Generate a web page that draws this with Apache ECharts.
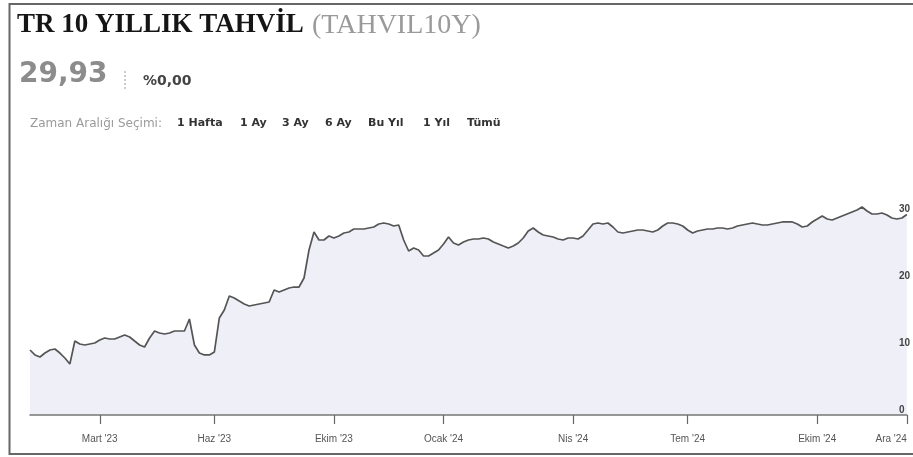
<!DOCTYPE html>
<html>
<head>
<meta charset="utf-8">
<script src="https://cdn.jsdelivr.net/npm/echarts@6/dist/echarts.min.js"></script>
<style>
  html, body { margin: 0; padding: 0; background: #ffffff; }
  #chart { width: 913px; height: 457px; }
</style>
</head>
<body>
<div id="chart"></div>
<script>
// TR 10 yıllık tahvil faizi, eşit aralıklı örnek noktalar (Mart '23 – Ara '24)
const yieldValues = [
  9.70, 8.96, 8.66, 9.25, 9.70, 9.85, 9.25, 8.51, 7.61, 11.04,
  10.60, 10.45, 10.60, 10.75, 11.19, 11.49, 11.34, 11.34, 11.64, 11.94,
  11.64, 11.04, 10.45, 10.15, 11.49, 12.54, 12.24, 12.09, 12.24, 12.54,
  12.54, 12.54, 14.33, 10.45, 9.25, 8.96, 8.96, 9.40, 14.48, 15.67,
  17.76, 17.46, 17.01, 16.57, 16.27, 16.42, 16.57, 16.72, 16.87, 18.66,
  18.36, 18.66, 18.96, 19.10, 19.10, 20.45, 24.63, 27.31, 26.12, 26.12,
  26.72, 26.42, 26.72, 27.16, 27.31, 27.76, 27.76, 27.76, 27.91, 28.06,
  28.51, 28.66, 28.51, 28.21, 28.36, 26.12, 24.48, 24.93, 24.63, 23.73,
  23.73, 24.18, 24.63, 25.52, 26.57, 25.67, 25.37, 25.82, 26.12, 26.27,
  26.27, 26.42, 26.27, 25.82, 25.52, 25.22, 24.93, 25.22, 25.67, 26.42,
  27.46, 27.91, 27.31, 26.87, 26.72, 26.57, 26.27, 26.12, 26.42, 26.42,
  26.27, 26.72, 27.61, 28.51, 28.66, 28.51, 28.66, 28.06, 27.31, 27.16,
  27.31, 27.46, 27.61, 27.61, 27.46, 27.31, 27.61, 28.21, 28.66, 28.66,
  28.51, 28.21, 27.61, 27.16, 27.46, 27.61, 27.76, 27.76, 27.91, 27.91,
  27.76, 27.91, 28.21, 28.36, 28.51, 28.66, 28.51, 28.36, 28.36, 28.51,
  28.66, 28.81, 28.81, 28.81, 28.51, 28.06, 28.21, 28.81, 29.25, 29.70,
  29.25, 29.10, 29.40, 29.70, 30.00, 30.30, 30.60, 31.04, 30.45, 30.00,
  30.00, 30.15, 29.85, 29.40, 29.25, 29.40, 29.93
];

// Ay etiketleri: örnek noktası sırası -> etiket
const monthTickIndex = [14, 37, 61, 83, 109, 132, 158, 176];
const monthTickLabel = ["Mart '23", "Haz '23", "Ekim '23", "Ocak '24", "Nis '24", "Tem '24", "Ekim '24", "Ara '24"];

const yTicks = [0, 10, 20, 30];

const lastPrice = '29,93';
const changePct = '%0,00';
const rangeOptions = ['1 Hafta', '1 Ay', '3 Ay', '6 Ay', 'Bu Yıl', '1 Yıl', 'Tümü'];
const rangeOptionX = [177, 240, 282, 325, 368, 423, 467];

const categories = yieldValues.map((_, i) => String(i));
const tickMap = {};
monthTickIndex.forEach((idx, k) => { tickMap[idx] = monthTickLabel[k]; });

const chart = echarts.init(document.getElementById('chart'), null, { renderer: 'canvas' });

const headerGraphics = [
  // çerçeve
  { type: 'rect', shape: { x: 9.5, y: 4, width: 910, height: 450 },
    style: { fill: 'none', stroke: '#666', lineWidth: 2 }, z: 100 },
  { type: 'text', left: 17, top: 12,
    style: { text: 'TR 10 YILLIK TAHVİL', font: 'bold 27px "Liberation Serif", serif', fill: '#151515' } },
  { type: 'text', left: 312, top: 12,
    style: { text: '(TAHVIL10Y)', font: '28px "Liberation Serif", serif', fill: '#9a9a9a' } },
  { type: 'text', left: 19, top: 61,
    style: { text: lastPrice, font: 'bold 28px "DejaVu Sans", sans-serif', fill: '#8c8c8c' } },
  { type: 'line', shape: { x1: 125, y1: 71, x2: 125, y2: 89 },
    style: { stroke: '#999', lineWidth: 1, lineDash: [2, 2] } },
  { type: 'text', left: 143, top: 74,
    style: { text: changePct, font: 'bold 14px "DejaVu Sans", sans-serif', fill: '#444' } },
  { type: 'text', left: 30, top: 118,
    style: { text: 'Zaman Aralığı Seçimi:', font: '12px "DejaVu Sans", sans-serif', fill: '#9a9a9a' } }
];
rangeOptions.forEach((t, i) => {
  headerGraphics.push({ type: 'text', left: rangeOptionX[i], top: 118,
    style: { text: t, font: 'bold 11px "DejaVu Sans", sans-serif', fill: '#333' } });
});

chart.setOption({
  animation: false,
  backgroundColor: '#ffffff',
  graphic: headerGraphics,
  grid: { left: 30, right: 3, top: 180.5, bottom: 42, containLabel: false },
  xAxis: {
    type: 'category',
    data: categories,
    boundaryGap: false,
    z: 5,
    axisLine: { show: true, lineStyle: { color: '#777', width: 1.5 } },
    axisTick: {
      show: true, length: 9,
      interval: (idx) => tickMap[idx] !== undefined,
      lineStyle: { color: '#666', width: 1.2 }
    },
    axisLabel: {
      interval: (idx) => tickMap[idx] !== undefined,
      formatter: (val, idx) => tickMap[idx] || '',
      margin: 19,
      fontSize: 10,
      color: '#555',
      fontFamily: '"Liberation Sans", Arial, sans-serif',
      alignMaxLabel: 'right'
    },
    splitLine: { show: false }
  },
  yAxis: {
    type: 'value',
    position: 'right',
    min: 0,
    max: 35,
    interval: 10,
    z: 5,
    axisLine: { show: false },
    axisTick: { show: false },
    splitLine: { show: false },
    axisLabel: {
      showMaxLabel: false,
      margin: -8,
      fontSize: 10,
      color: '#444',
      fontWeight: 'bold',
      verticalAlign: 'bottom',
      fontFamily: '"Liberation Sans", Arial, sans-serif',
      formatter: (v) => (yTicks.indexOf(v) >= 0 ? String(v) : '')
    }
  },
  series: [{
    type: 'line',
    data: yieldValues,
    symbol: 'none',
    smooth: false,
    lineStyle: { color: '#555555', width: 1.7 },
    areaStyle: { color: '#efeff8', opacity: 1 },
    z: 2
  }]
});
</script>
</body>
</html>
